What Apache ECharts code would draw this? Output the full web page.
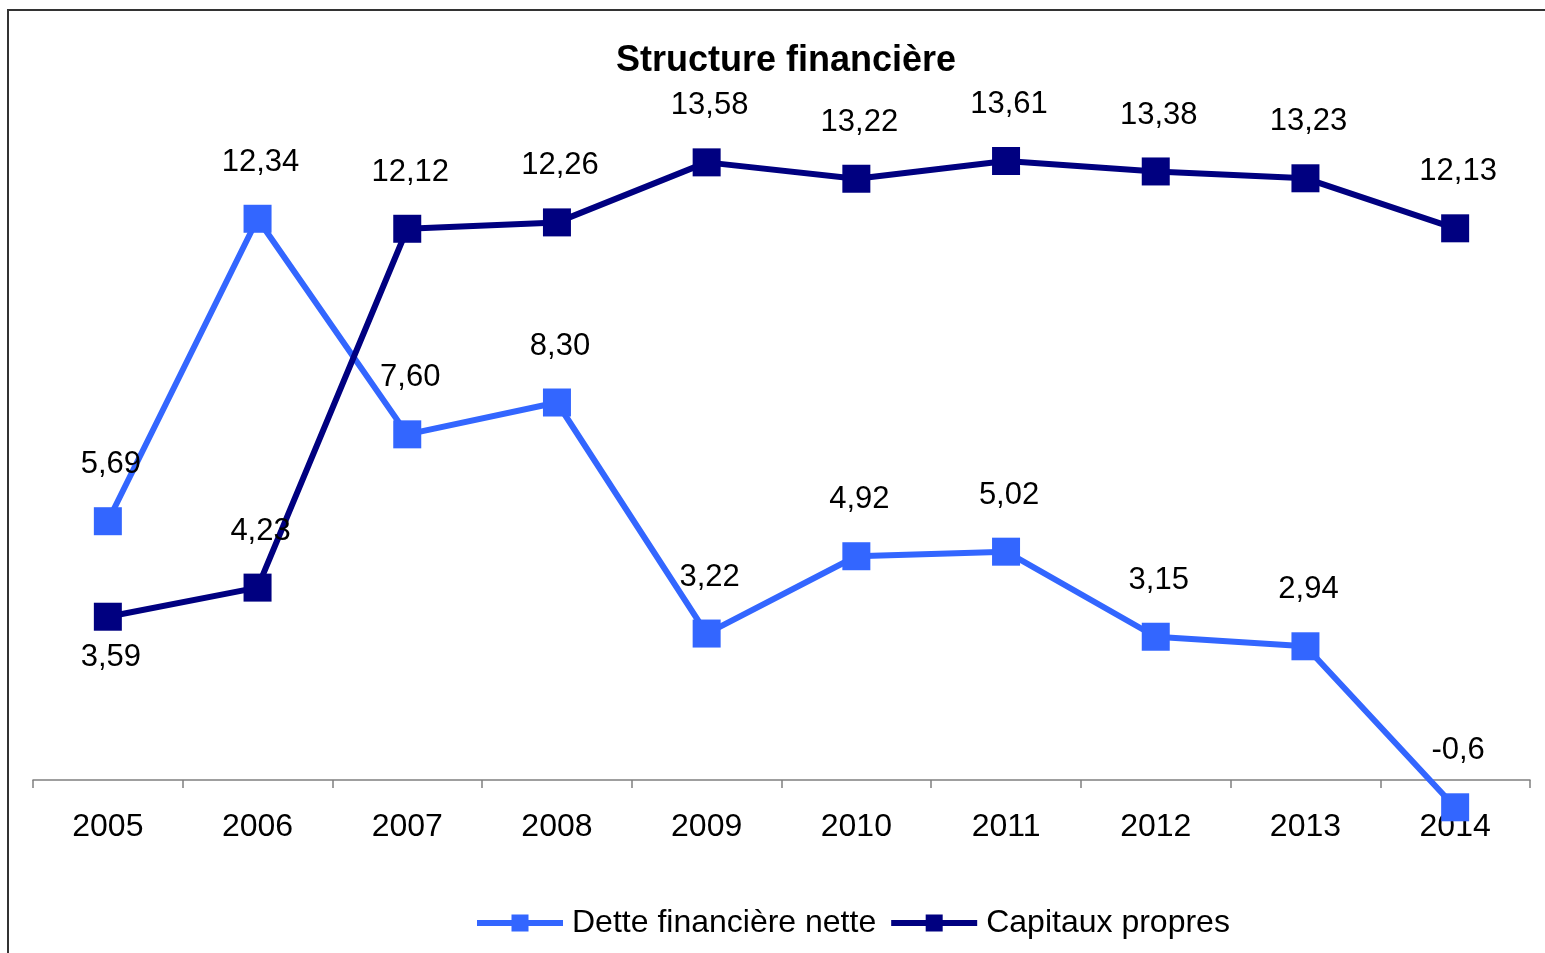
<!DOCTYPE html>
<html>
<head>
<meta charset="utf-8">
<script src="https://cdn.jsdelivr.net/npm/echarts@6/dist/echarts.min.js"></script>
<style>
html,body{margin:0;padding:0;background:#fff;}
#chart{width:1545px;height:953px;}
</style>
</head>
<body>
<div id="chart"></div>
<script>
var categories = ['2005','2006','2007','2008','2009','2010','2011','2012','2013','2014'];
var detteNette = [5.69, 12.34, 7.60, 8.30, 3.22, 4.92, 5.02, 3.15, 2.94, -0.6];
var detteLabels = ['5,69','12,34','7,60','8,30','3,22','4,92','5,02','3,15','2,94','-0,6'];
var capitaux = [3.59, 4.23, 12.12, 12.26, 13.58, 13.22, 13.61, 13.38, 13.23, 12.13];
var capitauxLabels = ['3,59','4,23','12,12','12,26','13,58','13,22','13,61','13,38','13,23','12,13'];
var capitauxLabelBelow = [true, false, false, false, false, false, false, false, false, false];

var FONT = 'Liberation Sans, Arial, sans-serif';
var chart = echarts.init(document.getElementById('chart'));

function buildData(vals, labels, below) {
  return vals.map(function (v, i) {
    var d = { value: v, labelText: labels[i] };
    if (below && below[i]) {
      d.label = { position: 'bottom', distance: 11 };
    }
    return d;
  });
}

var labelCommon = {
  show: true,
  position: 'top',
  distance: 27,
  offset: [3, 0],
  color: '#000',
  fontFamily: FONT,
  fontSize: 31,
  formatter: function (p) { return p.data.labelText; }
};

var legendIcon = 'path://M0,5.5 L86,5.5 L86,11.5 L0,11.5 Z M34.5,0 L51.5,0 L51.5,17 L34.5,17 Z';

chart.setOption({
  backgroundColor: '#fff',
  animation: false,
  title: {
    text: 'Structure financière',
    left: 781,
    textAlign: 'center',
    top: 38,
    textStyle: { fontFamily: FONT, fontSize: 36, fontWeight: 'bold', color: '#000' }
  },
  graphic: [{
    type: 'rect',
    shape: { x: 8, y: 10, width: 1600, height: 1000 },
    style: { fill: 'none', stroke: '#333', lineWidth: 2 },
    silent: true
  }],
  legend: {
    left: 472,
    top: 902,
    itemWidth: 86,
    itemHeight: 17,
    itemGap: 15,
    textStyle: { fontFamily: FONT, fontSize: 32, color: '#000', padding: [0, 0, 0, 4] },
    data: [
      { name: 'Dette financière nette', icon: legendIcon },
      { name: 'Capitaux propres', icon: legendIcon }
    ]
  },
  grid: { left: 33, right: 15, top: 52.3, bottom: 173, containLabel: false },
  xAxis: {
    type: 'category',
    data: categories,
    boundaryGap: true,
    axisLine: { onZero: false, lineStyle: { color: '#808080', width: 1.5 } },
    axisTick: { show: true, length: 8, lineStyle: { color: '#808080', width: 1.5 } },
    axisLabel: { margin: 31, color: '#000', fontFamily: FONT, fontSize: 32 },
    splitLine: { show: false }
  },
  yAxis: {
    type: 'value',
    min: 0,
    max: 16,
    show: false,
    splitLine: { show: false }
  },
  series: [
    {
      name: 'Dette financière nette',
      type: 'line',
      clip: false,
      data: buildData(detteNette, detteLabels, null),
      symbol: 'rect',
      symbolSize: 28,
      color: '#3366FF',
      lineStyle: { color: '#3366FF', width: 6 },
      itemStyle: { color: '#3366FF' },
      label: labelCommon,
      z: 3
    },
    {
      name: 'Capitaux propres',
      type: 'line',
      clip: false,
      data: buildData(capitaux, capitauxLabels, capitauxLabelBelow),
      symbol: 'rect',
      symbolSize: 28,
      color: '#000080',
      lineStyle: { color: '#000080', width: 6 },
      itemStyle: { color: '#000080' },
      label: labelCommon,
      z: 3
    }
  ]
});
</script>
</body>
</html>
